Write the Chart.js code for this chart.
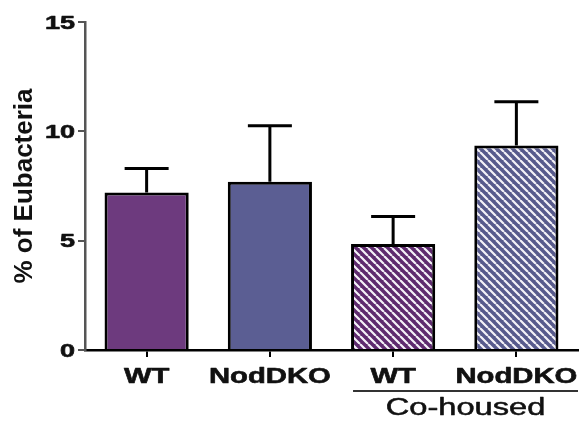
<!DOCTYPE html>
<html>
<head>
<meta charset="utf-8">
<script src="https://cdn.jsdelivr.net/npm/chart.js@4.4.1/dist/chart.umd.min.js"></script>
<style>
  body { margin: 0; background: #fff; }
  canvas { display: block; }
</style>
</head>
<body>
<canvas id="chart" width="582" height="430"></canvas>
<script>
const groups = ["WT", "NodDKO", "WT", "NodDKO"];
const means = [7.2, 7.7, 4.85, 9.35];
const sems = [1.1, 2.55, 1.25, 2.0];
const yTicks = [0, 5, 10, 15];
const yTitle = "% of Eubacteria";
const coHoused = "Co-housed";

const FONT = '"Liberation Sans", Arial, sans-serif';

// diagonal white stripes for the co-housed bars
function hatch(base) {
  const c = document.createElement("canvas");
  c.width = 8;
  c.height = 8;
  const g = c.getContext("2d");
  g.fillStyle = base;
  g.fillRect(0, 0, 8, 8);
  g.strokeStyle = "#f4f2f8";
  g.lineWidth = 2.2;
  g.beginPath();
  for (const o of [-8, 0, 8]) {
    g.moveTo(o, 0);
    g.lineTo(o + 8, 8);
  }
  g.stroke();
  return g.createPattern(c, "repeat");
}

const fills = ["#6d3a7e", "#5b5e93", hatch("#5e2a6e"), hatch("#575a8c")];

function stretchText(ctx, str, x, y, font, sx, align, weight) {
  ctx.save();
  ctx.translate(x, y);
  ctx.scale(sx, 1);
  ctx.font = font;
  ctx.textAlign = align;
  ctx.textBaseline = "alphabetic";
  ctx.fillStyle = "#111";
  ctx.fillText(str, 0, 0);
  if (weight) {
    ctx.strokeStyle = "#111";
    ctx.lineWidth = weight;
    ctx.lineJoin = "round";
    ctx.strokeText(str, 0, 0);
  }
  ctx.restore();
}

const errorBars = {
  id: "errorBars",
  afterDatasetsDraw(chart) {
    const ctx = chart.ctx;
    const y = chart.scales.y;
    const meta = chart.getDatasetMeta(0);
    ctx.save();
    ctx.strokeStyle = "#000";
    ctx.lineWidth = 3;
    meta.data.forEach((bar, i) => {
      const top = y.getPixelForValue(means[i] + sems[i]);
      const base = y.getPixelForValue(means[i]);
      ctx.beginPath();
      ctx.moveTo(bar.x, base);
      ctx.lineTo(bar.x, top);
      ctx.moveTo(bar.x - 22, top);
      ctx.lineTo(bar.x + 22, top);
      ctx.stroke();
    });
    ctx.restore();
  },
};

const axisLabels = {
  id: "axisLabels",
  afterDraw(chart) {
    const ctx = chart.ctx;
    const x = chart.scales.x;
    const y = chart.scales.y;
    const area = chart.chartArea;

    y.ticks.forEach((t) => {
      stretchText(ctx, String(t.value), area.left - 10, y.getPixelForValue(t.value) + 6.5,
        "bold 18px " + FONT, 1.5, "right", 0.6);
    });

    groups.forEach((g, i) => {
      stretchText(ctx, g, x.getPixelForValue(i), area.bottom + 33,
        "bold 22px " + FONT, 1.33, "center", 0.6);
    });

    // bracket under the co-housed groups
    const meta = chart.getDatasetMeta(0);
    const b = meta.data[2];
    const x0 = b.x - b.width / 2 + 2;
    const x1 = area.right;
    ctx.save();
    ctx.strokeStyle = "#333";
    ctx.lineWidth = 2;
    ctx.beginPath();
    ctx.moveTo(x0, area.bottom + 41);
    ctx.lineTo(x1, area.bottom + 41);
    ctx.stroke();
    ctx.restore();
    stretchText(ctx, coHoused, (x0 + x1) / 2, area.bottom + 65,
      "23px " + FONT, 1.42, "center", 0.5);
  },
};

new Chart(document.getElementById("chart"), {
  type: "bar",
  data: {
    labels: groups,
    datasets: [
      {
        data: means,
        backgroundColor: fills,
        borderColor: "#000",
        borderWidth: 3,
        borderSkipped: "start",
        categoryPercentage: 1,
        barPercentage: 0.683,
      },
    ],
  },
  options: {
    responsive: false,
    animation: false,
    layout: { padding: { top: 22, right: 4, left: 0, bottom: 0 } },
    plugins: {
      legend: { display: false },
      tooltip: { enabled: false },
    },
    scales: {
      x: {
        afterFit: (s) => { s.height = 80; },
        ticks: { display: false },
        grid: {
          offset: false,
          drawOnChartArea: false,
          color: "#000",
          lineWidth: 2,
          tickLength: 7,
        },
        border: { color: "#000", width: 2.5 },
      },
      y: {
        min: 0,
        max: 15,
        afterFit: (s) => { s.width = 85; },
        afterBuildTicks: (s) => { s.ticks = yTicks.map((v) => ({ value: v })); },
        ticks: { display: false },
        grid: {
          drawOnChartArea: false,
          color: "#555",
          lineWidth: 2,
          tickLength: 7,
        },
        border: { color: "#555", width: 2.5 },
        title: {
          display: true,
          text: yTitle,
          color: "#111",
          font: { family: FONT, size: 26, weight: "bold" },
          padding: { top: 9, bottom: 0 },
        },
      },
    },
  },
  plugins: [errorBars, axisLabels],
});
</script>
</body>
</html>
